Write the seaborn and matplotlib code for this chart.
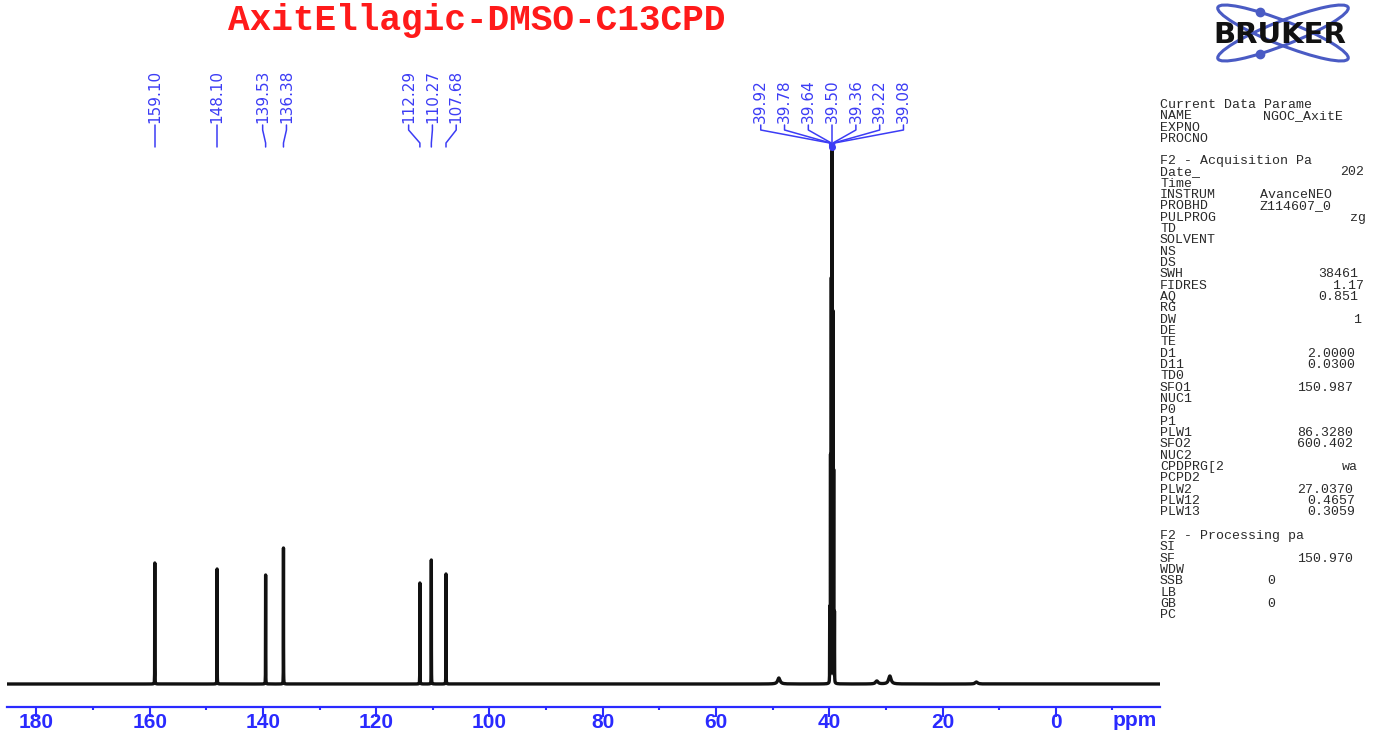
import numpy as np
import matplotlib
matplotlib.use('Agg')
import matplotlib.pyplot as plt
from matplotlib.patches import Ellipse
from matplotlib.ticker import MultipleLocator
import seaborn as sns

#carbon peaks (ppm) and their heights
peak_ppm = [159.10, 148.10, 139.53, 136.38, 112.29, 110.27, 107.68]
peak_height = [121, 115, 109, 136, 101, 124, 110]

#DMSO-d6 solvent septet
dmso_ppm = [39.92, 39.78, 39.64, 39.50, 39.36, 39.22, 39.08]
dmso_height = [75, 225, 400, 527, 367, 210, 70]

#small bumps on the baseline
bump_ppm = [48.9, 31.6, 29.3, 14.0]
bump_height = [6, 3, 8, 2]

x_ticks = [180, 160, 140, 120, 100, 80, 60, 40, 20, 0]

title = 'AxitEllagic-DMSO-C13CPD'

#parameter panel on the right (cut off at the image edge)
sec1_title = 'Current Data Parame'
sec1_keys = ['NAME', 'EXPNO', 'PROCNO']
sec1_vals = ['NGOC_AxitE', '', '']
sec2_title = 'F2 - Acquisition Pa'
sec2_keys = ['Date_', 'Time', 'INSTRUM', 'PROBHD', 'PULPROG', 'TD', 'SOLVENT', 'NS', 'DS',
             'SWH', 'FIDRES', 'AQ', 'RG', 'DW', 'DE', 'TE', 'D1', 'D11', 'TD0', 'SFO1',
             'NUC1', 'P0', 'P1', 'PLW1', 'SFO2', 'NUC2', 'CPDPRG[2', 'PCPD2', 'PLW2',
             'PLW12', 'PLW13']
sec2_vals = ['202', '', 'AvanceNEO', 'Z114607_0', 'zg', '', '', '', '',
             '38461', '1.17', '0.851', '', '1', '', '', '2.0000', '0.0300', '', '150.987',
             '', '', '', '86.3280', '600.402', '', 'wa', '', '27.0370',
             '0.4657', '0.3059']
sec3_title = 'F2 - Processing pa'
sec3_keys = ['SI', 'SF', 'WDW', 'SSB', 'LB', 'GB', 'PC']
sec3_vals = ['', '150.970', '', '0', '', '0', '']

#where each value starts (pixels)
val_x = {'NGOC_AxitE': 1263, '202': 1340, 'AvanceNEO': 1260, 'Z114607_0': 1260, 'zg': 1350,
         '38461': 1318, '1.17': 1332, '0.851': 1318, '1': 1353, '2.0000': 1307,
         '0.0300': 1307, '150.987': 1297, '86.3280': 1297, '600.402': 1297, 'wa': 1342,
         '27.0370': 1297, '0.4657': 1307, '0.3059': 1307, '150.970': 1297, '0': 1267}

W, H = 1376, 733
blue = '#2a2aff'
lblue = '#3c3cf5'

#build the spectrum from the peak list (lorentzian lines)
ppm = np.round(np.arange(-18.4, 185.2, 0.01), 2)
intensity = np.zeros_like(ppm)
for p, h in zip(peak_ppm + dmso_ppm, peak_height + dmso_height):
    intensity += h / (1 + ((ppm - p) / 0.012) ** 2)
for p, h in zip(bump_ppm, bump_height):
    intensity += h / (1 + ((ppm - p) / 0.25) ** 2)

sns.set_theme(style='white')
fig = plt.figure(figsize=(W / 100, H / 100), dpi=100)
fig.patch.set_facecolor('white')

#overlay axes in pixel coords for the title, logo and parameter text
ov = fig.add_axes([0, 0, 1, 1], zorder=-1)
ov.set_xlim(0, W)
ov.set_ylim(H, 0)
ov.axis('off')

ax = fig.add_axes([7 / W, 1 - 707 / H, 1153 / W, 647 / H])
ax.set_facecolor('none')
sns.lineplot(x=ppm, y=intensity, ax=ax, color='#111111', lw=2.4, estimator=None)
ax.set_xlim(185.2, -18.4)
ax.set_ylim(-23, 624)
ax.set_yticks([])
ax.set_xticks(x_ticks)
ax.xaxis.set_minor_locator(MultipleLocator(10))
for s in ['left', 'top', 'right']:
    ax.spines[s].set_visible(False)
ax.spines['bottom'].set_color(blue)
ax.spines['bottom'].set_linewidth(1.6)
ax.tick_params(axis='x', which='major', direction='out', length=7, width=1.5,
               colors=blue, labelsize=15, pad=-2.5, bottom=True)
ax.tick_params(axis='x', which='minor', direction='out', length=2.5, width=1.5,
               colors=blue, bottom=True)
for t in ax.get_xticklabels():
    t.set_fontweight('bold')
    t.set_family('Liberation Sans')
ax.set_xlabel('')

#peak labels, spread out where peaks sit close together
def spread(ppms, step=4.2):
    groups = []
    cur = [ppms[0]]
    for p in ppms[1:]:
        if cur[-1] - p < step:
            cur.append(p)
        else:
            groups.append(cur)
            cur = [p]
    groups.append(cur)
    out = []
    for g in groups:
        c = np.mean(g)
        n = len(g)
        out += [c + ((n - 1) / 2 - i) * step for i in range(n)]
    return out

all_peaks = sorted(peak_ppm + dmso_ppm, reverse=True)
label_x = spread(all_peaks)
for p, lx in zip(all_peaks, label_x):
    ax.plot([lx, lx, p, p], [559, 554, 541, 537], color=lblue, lw=1.1)
    ax.text(lx, 561, f'{p:.2f}', rotation=90, ha='center', va='bottom',
            fontsize=11, color=lblue, family='DejaVu Sans')
ax.plot([np.mean(dmso_ppm)], [537], 'o', color=lblue, ms=4)

ov.text(1157, 721, 'ppm', ha='right', va='center', fontsize=15, fontweight='bold',
        color=blue, family='Liberation Sans')

#title
ov.text(477, 20, title, ha='center', va='center', fontsize=26, fontweight='bold',
        color='#ff1a1a', family='Liberation Mono')

#bruker logo
for ang in [21.5, -21.5]:
    ov.add_patch(Ellipse((1283, 33), 140, 24, angle=ang, fill=False,
                         ec='#4a5bc4', lw=2.2))
ov.plot([1259.5, 1259.5], [12, 54], 'o', color='#4a5bc4', ms=6)
ov.text(1280, 35, 'BRUKER', ha='center', va='center', fontsize=21, fontweight='bold',
        color='#111111', family='DejaVu Sans')

#parameter text
def panel(y, head, keys, vals):
    ov.text(1160, y, head, ha='left', va='center', fontsize=9.5,
            color='#2a2a2a', family='Liberation Mono')
    for i, (k, v) in enumerate(zip(keys, vals)):
        yy = y + 11.33 * (i + 1)
        ov.text(1160, yy, k, ha='left', va='center', fontsize=9.5,
                color='#2a2a2a', family='Liberation Mono')
        if v:
            ov.text(val_x[v], yy, v, ha='left', va='center', fontsize=9.5,
                    color='#2a2a2a', family='Liberation Mono')

panel(105, sec1_title, sec1_keys, sec1_vals)
panel(161, sec2_title, sec2_keys, sec2_vals)
panel(536, sec3_title, sec3_keys, sec3_vals)

fig.savefig('out.png', dpi=100)
